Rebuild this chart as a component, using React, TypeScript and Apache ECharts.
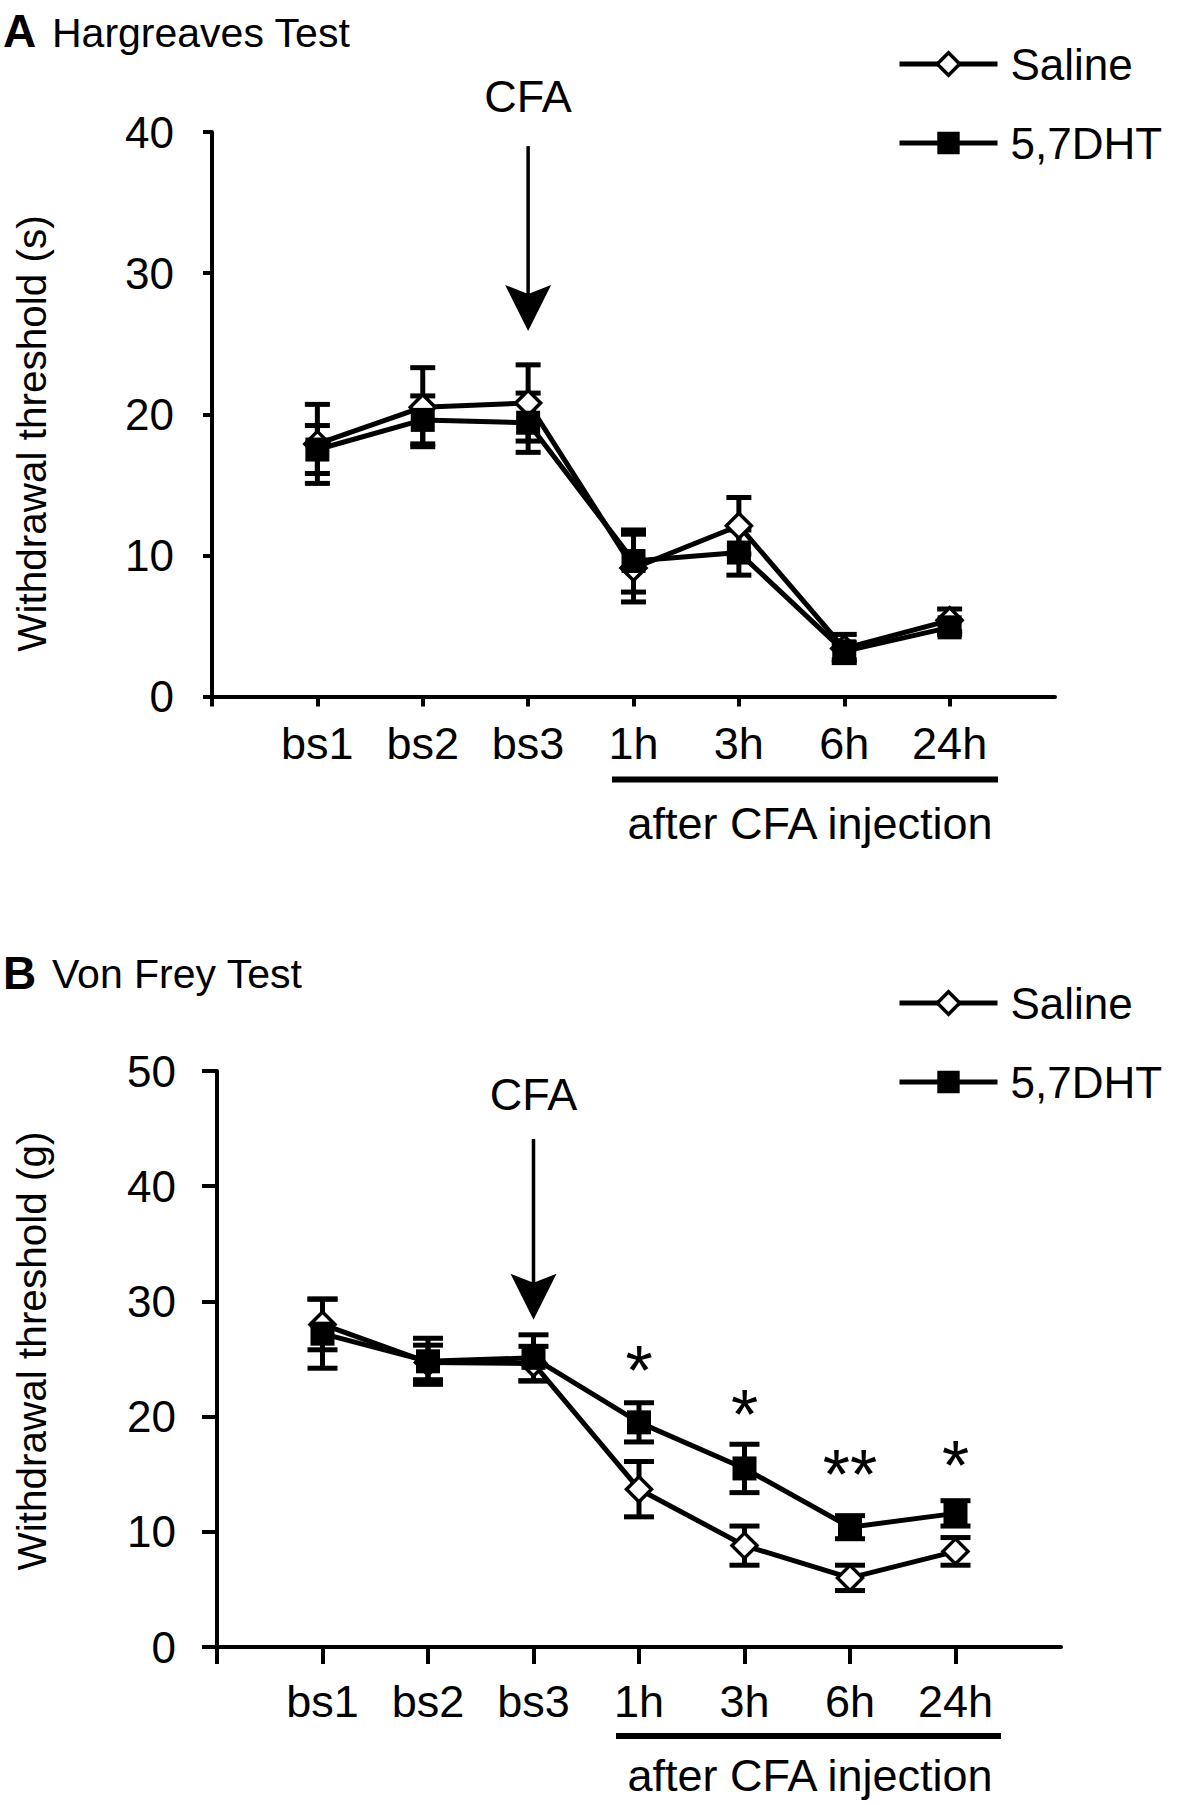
import React, { useEffect, useRef } from 'react';
import * as echarts from 'echarts';

const FONT = '"Liberation Sans", Arial, Helvetica, sans-serif';

const categories = ['bs1', 'bs2', 'bs3', '1h', '3h', '6h', '24h'];
const axisCategories = ['', ...categories, ' '];

// Panel A: Hargreaves test, withdrawal threshold (s)
const hargSalineMean = [17.9, 20.5, 20.8, 9.1, 12.1, 3.4, 5.4];
const hargSalineSem = [2.8, 2.8, 2.7, 2.4, 2.0, 1.0, 0.8];
const hargDhtMean = [17.5, 19.6, 19.4, 9.6, 10.2, 3.2, 4.9];
const hargDhtSem = [1.7, 1.7, 2.1, 2.2, 1.6, 0.6, 0.5];

// Panel B: Von Frey test, withdrawal threshold (g)
const vfSalineMean = [28.0, 24.7, 24.6, 13.7, 8.8, 6.0, 8.3];
const vfSalineSem = [2.2, 1.5, 1.5, 2.4, 1.7, 1.1, 1.2];
const vfDhtMean = [27.2, 24.8, 25.1, 19.5, 15.5, 10.4, 11.6];
const vfDhtSem = [3.0, 2.0, 2.0, 1.7, 2.1, 1.0, 1.1];

// significance marks in panel B
const vfStarCats = ['1h', '3h', '6h', '24h'];
const vfStarLabels = ['*', '*', '**', '*'];
const vfStarY = [24.0, 20.1, 14.9, 15.7];

// CFA arrow: [category, label y, arrow top, arrow tip]
const cfaA = ['bs3', 42.5, 39.0, 25.9];
const cfaB = ['bs3', 48.0, 44.1, 28.4];

const yMaxA = 40;
const yMaxB = 50;
const yInterval = 10;

const lineData = (mean: number[]) => categories.map((c, i) => [c, mean[i]]);
const errData = (mean: number[], sem: number[]) =>
  categories.map((c, i) => [c, +(mean[i] - sem[i]).toFixed(2), +(mean[i] + sem[i]).toFixed(2)]);

const makeRenderError = (hw: number) => (_params: any, api: any) => {
  const lo = api.coord([api.value(0), api.value(1)]);
  const hi = api.coord([api.value(0), api.value(2)]);
  const st = { stroke: '#000', lineWidth: 5 };
  return {
    type: 'group',
    children: [
      { type: 'line', shape: { x1: lo[0], y1: lo[1], x2: hi[0], y2: hi[1] }, style: st },
      { type: 'line', shape: { x1: lo[0] - hw, y1: lo[1], x2: lo[0] + hw, y2: lo[1] }, style: st },
      { type: 'line', shape: { x1: hi[0] - hw, y1: hi[1], x2: hi[0] + hw, y2: hi[1] }, style: st },
    ],
  };
};

const renderArrow = (_params: any, api: any) => {
  const lab = api.coord([api.value(0), api.value(1)]);
  const top = api.coord([api.value(0), api.value(2)]);
  const tip = api.coord([api.value(0), api.value(3)]);
  const cx = top[0];
  const headH = 46;
  const headW = 23;
  const notch = 9;
  return {
    type: 'group',
    children: [
      {
        type: 'text',
        style: {
          text: 'CFA', x: cx, y: lab[1], fill: '#000', font: `45px ${FONT}`,
          align: 'center', verticalAlign: 'middle', textAlign: 'center', textVerticalAlign: 'middle',
        },
      },
      {
        type: 'line',
        shape: { x1: cx, y1: top[1], x2: cx, y2: tip[1] - headH + notch + 2 },
        style: { stroke: '#000', lineWidth: 3.5 },
      },
      {
        type: 'polygon',
        shape: {
          points: [
            [cx, tip[1]],
            [cx - headW, tip[1] - headH],
            [cx, tip[1] - headH + notch],
            [cx + headW, tip[1] - headH],
          ],
        },
        style: { fill: '#000' },
      },
    ],
  };
};

const renderStar = (_params: any, api: any) => {
  const p = api.coord([api.value(0), api.value(1)]);
  const idx = _params.dataIndex;
  return {
    type: 'text',
    style: {
      text: vfStarLabels[idx], x: p[0], y: p[1], fill: '#000', font: `70px ${FONT}`,
      align: 'center', verticalAlign: 'middle', textAlign: 'center', textVerticalAlign: 'middle',
    },
  };
};

const makeXAxis = (gridIndex: number, tickLen: number, margin: number) => ({
  type: 'category',
  gridIndex,
  data: axisCategories,
  boundaryGap: false,
  axisLine: { show: true, lineStyle: { color: '#000', width: 4 } },
  axisTick: {
    show: true,
    length: tickLen,
    interval: (index: number) => index < 8,
    lineStyle: { color: '#000', width: 4 },
  },
  axisLabel: { interval: 0, margin, color: '#000', fontSize: 45, fontFamily: FONT },
  splitLine: { show: false },
});

const makeYAxis = (gridIndex: number, max: number, tickLen: number, margin: number) => ({
  type: 'value',
  gridIndex,
  min: 0,
  max,
  interval: yInterval,
  axisLine: { show: true, lineStyle: { color: '#000', width: 4 } },
  axisTick: { show: true, length: tickLen, lineStyle: { color: '#000', width: 4 } },
  axisLabel: { margin, color: '#000', fontSize: 44, fontFamily: FONT },
  splitLine: { show: false },
});

const salineSeries = (idx: number, mean: number[]) => ({
  type: 'line',
  name: 'Saline',
  xAxisIndex: idx,
  yAxisIndex: idx,
  data: lineData(mean),
  symbol: 'diamond',
  symbolSize: 25,
  z: 3,
  lineStyle: { color: '#000', width: 5 },
  itemStyle: { color: '#fff', borderColor: '#000', borderWidth: 3.5 },
});

const dhtSeries = (idx: number, mean: number[]) => ({
  type: 'line',
  name: '5,7DHT',
  xAxisIndex: idx,
  yAxisIndex: idx,
  data: lineData(mean),
  symbol: 'rect',
  symbolSize: 24,
  z: 3,
  lineStyle: { color: '#000', width: 5 },
  itemStyle: { color: '#000' },
});

const errSeries = (idx: number, mean: number[], sem: number[], hw: number) => ({
  type: 'custom',
  xAxisIndex: idx,
  yAxisIndex: idx,
  data: errData(mean, sem),
  encode: { x: 0, y: [1, 2] },
  renderItem: makeRenderError(hw),
  z: 2,
  silent: true,
});

const makeLegend = (top: number) => ({
  orient: 'vertical',
  left: 897,
  top,
  padding: 0,
  itemWidth: 98,
  itemHeight: 28,
  itemGap: 35,
  selectedMode: false,
  lineStyle: { width: 5 },
  textStyle: { fontSize: 44, fontFamily: FONT, color: '#000', padding: [0, 0, 0, 8] },
  data: [
    { name: 'Saline', itemStyle: { borderWidth: 3.5 } },
    { name: '5,7DHT' },
  ],
});

const textEl = (text: string, x: number, y: number, font: string, extra: any = {}) => ({
  type: 'text',
  x,
  y,
  ...extra,
  style: {
    text, fill: '#000', font,
    align: extra.align || 'left', verticalAlign: 'middle',
    textAlign: extra.align || 'left', textVerticalAlign: 'middle',
  },
});

export default function App() {
  const ref = useRef<HTMLDivElement>(null);
  useEffect(() => {
    if (!ref.current) return;
    const chart = echarts.init(ref.current, null, { renderer: 'svg' });
    const option: any = {
      animation: false,
      backgroundColor: '#fff',
      grid: [
        { left: 212, top: 132, width: 843, height: 564.5 },
        { left: 217, top: 1071, width: 844, height: 576 },
      ],
      xAxis: [makeXAxis(0, 10, 24), makeXAxis(1, 17, 32)],
      yAxis: [makeYAxis(0, yMaxA, 9, 38), makeYAxis(1, yMaxB, 15, 41)],
      legend: [makeLegend(42), makeLegend(981)],
      series: [
        errSeries(0, hargSalineMean, hargSalineSem, 12.5),
        errSeries(0, hargDhtMean, hargDhtSem, 12.5),
        salineSeries(0, hargSalineMean),
        dhtSeries(0, hargDhtMean),
        {
          type: 'custom', xAxisIndex: 0, yAxisIndex: 0, data: [cfaA],
          encode: { x: 0, y: [1, 2, 3] }, renderItem: renderArrow, clip: false, z: 4, silent: true,
        },
        errSeries(1, vfSalineMean, vfSalineSem, 15),
        errSeries(1, vfDhtMean, vfDhtSem, 15),
        salineSeries(1, vfSalineMean),
        dhtSeries(1, vfDhtMean),
        {
          type: 'custom', xAxisIndex: 1, yAxisIndex: 1, data: [cfaB],
          encode: { x: 0, y: [1, 2, 3] }, renderItem: renderArrow, clip: false, z: 4, silent: true,
        },
        {
          type: 'custom', xAxisIndex: 1, yAxisIndex: 1,
          data: vfStarCats.map((c, i) => [c, vfStarY[i]]),
          encode: { x: 0, y: 1 }, renderItem: renderStar, clip: false, z: 4, silent: true,
        },
      ],
      graphic: [
        textEl('A', 3, 31, `bold 46px ${FONT}`),
        textEl('Hargreaves Test', 52, 32.5, `41px ${FONT}`),
        textEl('B', 3, 973, `bold 46px ${FONT}`),
        textEl('Von Frey Test', 52, 973.5, `41px ${FONT}`),
        textEl('Withdrawal threshold (s)', 32, 433.5, `40.5px ${FONT}`, { rotation: Math.PI / 2, align: 'center' }),
        textEl('Withdrawal threshold (g)', 32, 1351, `40.5px ${FONT}`, { rotation: Math.PI / 2, align: 'center' }),
        {
          type: 'line', shape: { x1: 612, y1: 779.5, x2: 998, y2: 779.5 },
          style: { stroke: '#000', lineWidth: 6 },
        },
        textEl('after CFA injection', 810, 823, `45px ${FONT}`, { align: 'center' }),
        {
          type: 'line', shape: { x1: 616, y1: 1736, x2: 1001, y2: 1736 },
          style: { stroke: '#000', lineWidth: 6 },
        },
        textEl('after CFA injection', 810, 1775, `45px ${FONT}`, { align: 'center' }),
      ],
    };
    chart.setOption(option);
    return () => chart.dispose();
  }, []);
  return (
    <div
      ref={ref}
      style={{ position: 'absolute', left: 0, top: 0, width: 1200, height: 1805, background: '#fff' }}
    />
  );
}
